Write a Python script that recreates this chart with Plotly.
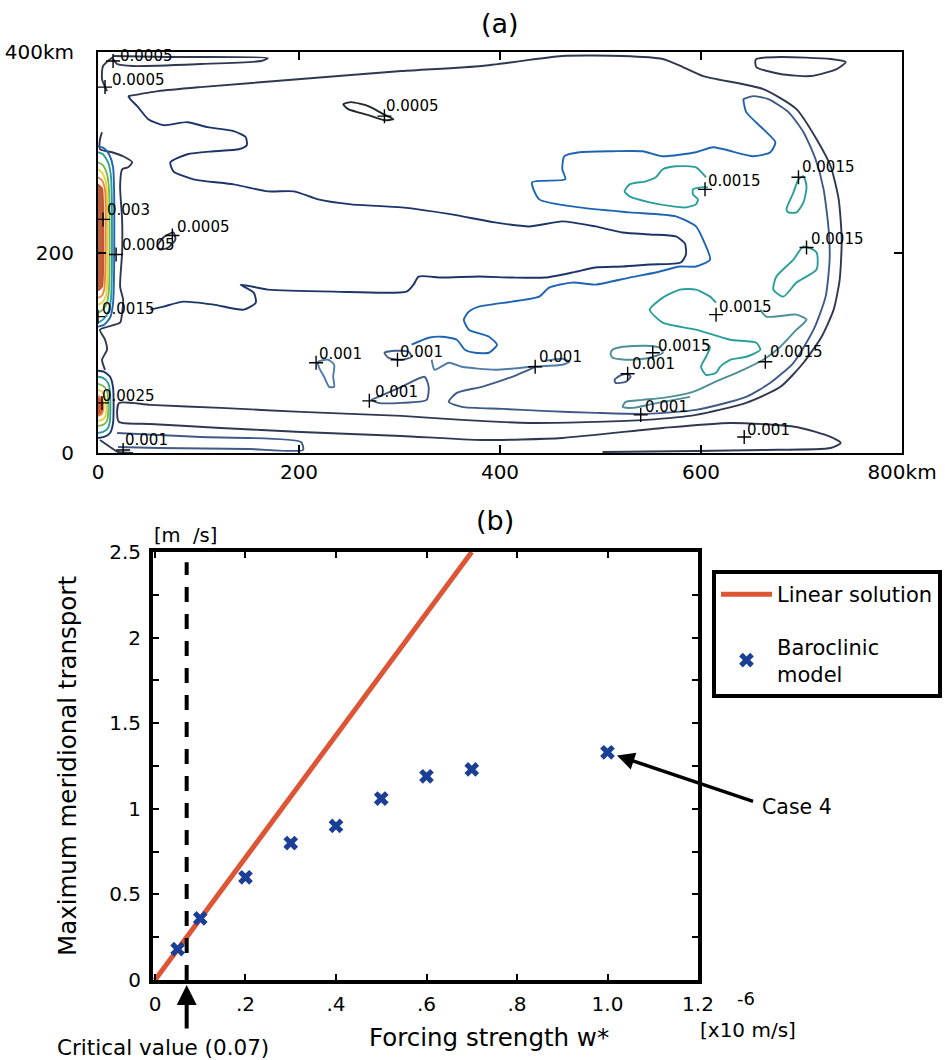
import plotly.graph_objects as go

# ------------------------------------------------------------------
# (a) contour lines of the meridional transport field (x, y in km)
# ------------------------------------------------------------------
line_outer = [(30, 356), (60, 361), (102, 365), (202, 373), (302, 381), (382, 386), (462, 396),
              (522, 396), (562, 393), (582, 385), (602, 376), (662, 363), (695, 343), (715, 313),
              (729, 286), (737, 253), (740, 213), (738, 173), (732, 143), (720, 116), (702, 90),
              (679, 66), (645, 50), (595, 38), (545, 33), (495, 31), (429, 30), (362, 33),
              (302, 37), (202, 41), (122, 45), (52, 48), (21, 50), (19, 40), (21, 31), (52, 29),
              (122, 25), (202, 21), (302, 17), (382, 13), (462, 15), (562, 25), (629, 30),
              (695, 26), (729, 16), (739, 10), (729, 5), (662, 3), (595, 2), (502, 1)]
line_tongue = [(30, 356), (33, 352), (39, 346), (50, 333), (65, 327), (89, 330), (109, 325),
               (135, 321), (147, 315), (148, 307), (140, 303), (115, 301), (89, 298), (72, 290),
               (75, 281), (95, 273), (135, 268), (169, 261), (195, 261), (219, 253), (252, 248),
               (302, 245), (352, 238), (395, 230), (429, 226), (462, 231), (495, 226), (522, 220),
               (549, 218), (575, 216), (584, 209), (585, 198), (580, 190), (549, 188), (522, 186),
               (495, 185), (472, 180), (445, 175), (412, 175), (379, 176), (342, 175), (319, 176),
               (314, 168), (307, 161), (235, 161), (169, 163), (142, 168), (155, 160), (157, 150),
               (145, 143), (115, 148), (85, 151), (65, 146), (52, 143)]
line_blue = [(642, 353), (645, 340), (662, 323), (674, 310), (669, 300), (652, 296), (612, 305),
             (595, 300), (562, 296), (542, 301), (512, 301), (479, 300), (464, 296), (462, 283),
             (465, 273), (432, 270), (439, 253), (479, 245), (529, 240), (575, 236), (595, 226),
             (602, 213), (609, 193), (595, 186), (579, 186), (555, 180), (529, 175), (495, 168),
             (472, 170), (449, 165), (439, 156), (412, 151), (379, 146), (369, 141), (364, 133),
             (369, 123), (389, 116), (397, 108), (389, 100), (375, 100), (365, 103), (357, 113),
             (342, 116), (329, 115), (312, 108)]
line_rim = [(642, 353), (652, 356), (667, 353), (687, 340), (702, 320), (714, 293), (722, 263),
            (727, 223), (728, 193), (724, 156), (712, 123), (692, 90), (669, 70), (645, 56),
            (595, 43), (545, 39), (495, 40), (442, 42), (402, 44), (362, 46), (349, 51), (357, 60),
            (382, 66), (412, 76), (435, 86)]
line_mid = [(332, 93), (335, 83), (349, 90), (362, 86), (395, 83), (432, 86), (462, 88), (469, 91),
            (462, 94), (445, 92)]
line_left = [(4, 320), (2, 313), (2, 303), (14, 300), (25, 296), (34, 290), (30, 285), (24, 283),
             (22, 266), (24, 233), (24, 200), (22, 166), (25, 153), (24, 140), (22, 130), (2, 123),
             (7, 113), (9, 103), (4, 93), (7, 83)]
line_bottom_left = [(19, 20), (60, 18), (102, 16), (202, 11), (204, 3), (150, 4), (60, 5), (20, 6)]
line_corner = [(2, 13), (12, 6), (20, 1), (35, 0)]

teal_upper = [(605, 275), (595, 285), (575, 286), (562, 283), (555, 275), (545, 271), (529, 268),
              (524, 261), (529, 256), (549, 250), (572, 246), (585, 245), (595, 248), (597, 253),
              (592, 258), (592, 263), (600, 265), (607, 265)]
teal_east_a = [(702, 276), (697, 273), (692, 260), (685, 243), (687, 240), (695, 240), (702, 250),
               (705, 266), (702, 276)]
teal_east_b = [(702, 206), (715, 200), (715, 183), (695, 170), (682, 156), (672, 163), (675, 176),
               (692, 193), (702, 206)]
teal_lower_a = [(615, 150), (609, 156), (595, 163), (579, 163), (562, 155), (549, 143), (562, 130),
                (595, 123), (629, 113), (655, 110), (659, 103), (645, 96), (629, 93), (619, 86),
                (615, 80), (605, 78), (600, 86), (605, 96), (609, 106), (602, 110)]
teal_lower_b = [(659, 143), (665, 136), (695, 138), (705, 133), (695, 123), (679, 106), (662, 93),
                (642, 83), (612, 70), (592, 61), (562, 55), (542, 53), (525, 51), (522, 46),
                (532, 45), (552, 49), (589, 56)]

loop_top_left = [(15, 395), (5, 386), (4, 373), (9, 361)]
loop_top_strip = [(15, 396), (69, 395), (169, 394), (162, 391), (102, 388), (35, 386), (19, 388),
                  (15, 393)]
loop_top_right = [(655, 393), (679, 395), (729, 393), (744, 390), (735, 383), (709, 376), (679, 378),
                  (655, 385), (654, 391), (655, 393)]
loop_north = [(244, 348), (252, 350), (269, 346), (284, 338), (294, 333), (285, 332), (269, 337),
              (249, 343), (244, 348)]
loop_west = [(59, 206), (65, 215), (75, 220), (77, 213), (70, 205), (62, 203), (59, 206)]
loop_s1 = [(219, 91), (229, 93), (235, 88), (234, 76), (235, 66), (230, 66), (225, 76), (220, 85),
           (219, 91)]
loop_s2 = [(285, 100), (295, 102), (309, 101), (312, 96), (302, 93), (289, 95), (285, 100)]
loop_s3 = [(279, 56), (302, 66), (325, 76), (329, 66), (327, 53), (302, 50), (279, 50), (272, 53),
           (279, 56)]
loop_s4 = [(512, 103), (522, 106), (545, 107), (559, 105), (562, 100), (549, 95), (529, 93),
           (512, 95), (510, 99), (512, 103)]
loop_s5 = [(514, 73), (519, 77), (527, 79), (530, 76), (525, 71), (515, 70), (514, 73)]

# western boundary jet: nested contours against the wall
jet_n1 = [(0, 306), (6, 304), (11, 298), (15, 285), (15, 150), (12, 135), (6, 128), (0, 126)]
jet_n2 = [(0, 300), (5, 298), (10, 290), (13, 275), (13, 155), (10, 140), (5, 133), (0, 130)]
jet_n3 = [(0, 290), (5, 287), (9, 278), (11, 262), (11, 165), (9, 150), (5, 143), (0, 140)]
jet_n4 = [(0, 283), (4, 280), (8, 270), (9, 255), (9, 170), (8, 157), (4, 150), (0, 148)]
jet_n5 = [(0, 275), (4, 272), (7, 262), (7, 175), (6, 162), (3, 156), (0, 155)]
jet_n6 = [(0, 268), (4, 264), (5, 250), (5, 178), (4, 166), (0, 162)]
jet_s1 = [(0, 82), (6, 81), (12, 76), (15, 65), (15, 30), (12, 20), (6, 16), (0, 15)]
jet_s2 = [(0, 76), (5, 75), (10, 70), (12, 60), (12, 33), (10, 25), (5, 21), (0, 20)]
jet_s3 = [(0, 69), (5, 67), (9, 62), (10, 55), (10, 38), (9, 32), (5, 28), (0, 27)]
jet_s4 = [(0, 63), (4, 61), (7, 56), (8, 50), (8, 40), (7, 36), (4, 33), (0, 32)]
jet_s5 = [(0, 57), (3, 55), (5, 50), (5, 42), (3, 38), (0, 37)]

# contour labels (text start) and the "+" marks placed on their lines
label_text = ["0.0005", "0.0005", "0.0005", "0.003", "0.0005", "0.0005", "0.0015", "0.0025",
              "0.001", "0.001", "0.001", "0.001", "0.001", "0.0015", "0.001", "0.0015",
              "0.0015", "0.0015", "0.0015", "0.0015", "0.001", "0.001"]
label_x = [20, 12, 285, 7, 77, 22, 2, 2, 25, 218, 299, 274, 437, 555, 529, 605, 699, 707, 616,
           667, 542, 644]
label_y = [396, 372, 346, 242, 225, 207, 144, 57, 13, 99, 101, 61, 96, 107, 89, 271, 285, 213,
           146, 101, 46, 23]
mark_x = [15, 7, 285, 5, 74, 18, 0, 4, 25, 217, 298, 270, 435, 552, 527, 604, 697, 705, 615, 664,
          540, 643]
mark_y = [391, 365, 336, 233, 217, 198, 136, 50, 3, 90, 93, 52, 86, 100, 79, 263, 275, 205, 138,
          91, 38, 16]

# ------------------------------------------------------------------
# (b) maximum meridional transport against forcing strength
# ------------------------------------------------------------------
linear_forcing = [0.0, 0.70]
linear_transport = [0.0, 2.5]
model_forcing = [0.05, 0.1, 0.2, 0.3, 0.4, 0.5, 0.6, 0.7, 1.0]
model_transport = [0.18, 0.36, 0.60, 0.80, 0.90, 1.06, 1.19, 1.23, 1.33]
critical_value = 0.07
case4_index = 8

x2_ticks = [0, 0.2, 0.4, 0.6, 0.8, 1.0, 1.2]
x2_labels = ["0", ".2", ".4", ".6", ".8", "1.0", "1.2"]
y2_ticks = [0, 0.25, 0.5, 0.75, 1.0, 1.25, 1.5, 1.75, 2.0, 2.25, 2.5]
y2_labels = ["0", "", "0.5", "", "1", "", "1.5", "", "2", "", "2.5"]

FONT = "DejaVu Sans"

DARK = "#2f3850"
NAVY = "#1d3468"
BLUE = "#1f64b3"
RIM = "#3f5a86"
MID = "#4f7aa6"
TEAL = "#2a9e9c"
TEAL_GREY = "#4d8f99"
GREEN = "#79b94a"
YELLOW = "#e6d446"
ORANGE = "#eb8a3a"
RED = "#c8532f"

styled_lines = [
    (line_outer, DARK), (line_tongue, NAVY), (line_blue, BLUE), (line_rim, RIM),
    (line_mid, MID), (line_left, DARK), (line_bottom_left, RIM), (line_corner, DARK),
    (teal_upper, TEAL), (teal_east_a, TEAL), (teal_east_b, TEAL), (teal_lower_a, TEAL),
    (teal_lower_b, TEAL_GREY), (loop_top_left, DARK), (loop_top_strip, DARK),
    (loop_top_right, DARK), (loop_north, "#23262e"), (loop_west, DARK), (loop_s1, MID),
    (loop_s2, RIM), (loop_s3, RIM), (loop_s4, TEAL_GREY), (loop_s5, RIM),
    (jet_n1, BLUE), (jet_n2, TEAL), (jet_n3, GREEN), (jet_n4, YELLOW), (jet_n5, ORANGE),
    (jet_s1, NAVY), (jet_s2, TEAL), (jet_s3, GREEN), (jet_s4, YELLOW),
]

fig = go.Figure()

for pts, color in styled_lines:
    fig.add_trace(go.Scatter(
        x=[p[0] for p in pts], y=[p[1] for p in pts], mode="lines",
        line=dict(color=color, width=1.9, shape="spline", smoothing=0.6),
        showlegend=False, hoverinfo="skip", xaxis="x", yaxis="y"))

# filled cores of the jet
for pts, line_c, fill_c in [(jet_n6, RED, "#b9623f"), (jet_s5, ORANGE, "#dd5a35")]:
    fig.add_trace(go.Scatter(
        x=[p[0] for p in pts], y=[p[1] for p in pts], mode="lines", fill="toself",
        fillcolor=fill_c, line=dict(color=line_c, width=1.8, shape="spline", smoothing=0.6),
        showlegend=False, hoverinfo="skip", xaxis="x", yaxis="y"))

fig.add_trace(go.Scatter(
    x=mark_x, y=mark_y, mode="markers",
    marker=dict(symbol="cross-thin", size=10, line=dict(color="black", width=1.4)),
    showlegend=False, hoverinfo="skip", xaxis="x", yaxis="y"))

annotations = []
for t, lx, ly in zip(label_text, label_x, label_y):
    annotations.append(dict(text=t, x=lx, y=ly, xref="x", yref="y", xanchor="left",
                            yanchor="middle", showarrow=False,
                            font=dict(family=FONT, size=15, color="black")))

# panel (b)
fig.add_trace(go.Scatter(
    x=linear_forcing, y=linear_transport, mode="lines", name="Linear solution",
    line=dict(color="#dd5535", width=5), xaxis="x2", yaxis="y2", legendgroup="lin"))
fig.add_trace(go.Scatter(
    x=model_forcing, y=model_transport, mode="markers", name="Baroclinic<br>model",
    marker=dict(symbol="x", size=13, color="#1b3f94", line=dict(width=0)),
    xaxis="x2", yaxis="y2", legendgroup="model"))

shapes = [dict(type="line", xref="x2", yref="y2", x0=critical_value, x1=critical_value,
               y0=0, y1=2.44, line=dict(color="black", width=4, dash="15px,12px"))]


def paper_text(text, px, py, size, **kw):
    """Text placed at a pixel position of the 945x1060 page."""
    d = dict(text=text, x=px / 945, y=1 - py / 1060, xref="paper", yref="paper",
             xanchor="center", yanchor="middle", showarrow=False,
             font=dict(family=FONT, size=size, color="black"))
    d.update(kw)
    return d


annotations += [
    paper_text("(a)", 500, 23, 27),
    paper_text("(b)", 495, 520, 27),
    paper_text("[m  /s]", 185, 535, 19.5),
    paper_text("Maximum meridional transport", 67, 766, 24.5, textangle=-90),
    paper_text("Forcing strength w*", 489, 1037, 24.5),
    paper_text("-6", 746, 998, 18),
    paper_text("[x10 m/s]", 748, 1030, 20),
    paper_text(f"Critical value ({critical_value:.2f})", 163, 1047, 21.5),
    paper_text("Case 4", 760, 807, 20.5, xanchor="left"),
    dict(text="", x=critical_value, y=1 - 985 / 1060, xref="x2", yref="paper",
         ax=0, ay=45, axref="pixel", ayref="pixel", showarrow=True, arrowhead=2,
         arrowsize=1, arrowwidth=4, arrowcolor="black"),
    dict(text="", x=model_forcing[case4_index], y=model_transport[case4_index], xref="x2",
         yref="y2", ax=1.325, ay=1.04, axref="x2", ayref="y2", showarrow=True, arrowhead=2,
         arrowsize=1, arrowwidth=3.5, arrowcolor="black", standoff=10),
]

tick_font = dict(family=FONT, size=20, color="black")
tick_font_b = dict(family=FONT, size=20, color="black")

fig.update_layout(
    width=945, height=1060, margin=dict(l=0, r=0, t=0, b=0, autoexpand=False),
    paper_bgcolor="white", plot_bgcolor="white",
    xaxis=dict(domain=[98 / 945, 902 / 945], range=[0, 800], anchor="y", automargin=False,
               tickvals=[0, 200, 400, 600, 800], ticktext=["0", "200", "400", "600", "800km"],
               ticks="inside", ticklen=8, tickwidth=1.5, tickcolor="black", showline=True,
               linewidth=2, linecolor="black", mirror="ticks", showgrid=False, zeroline=False,
               tickfont=tick_font, ticklabelstandoff=0),
    yaxis=dict(domain=[1 - 453 / 1060, 1 - 52 / 1060], range=[0, 400], anchor="x",
               automargin=False,
               tickvals=[0, 200, 400], ticktext=["0", "200", "400km"],
               ticks="inside", ticklen=8, tickwidth=1.5, tickcolor="black", showline=True,
               linewidth=2, linecolor="black", mirror="ticks", showgrid=False, zeroline=False,
               tickfont=tick_font, ticklabelstandoff=18),
    xaxis2=dict(domain=[153 / 945, 698 / 945], range=[-0.0044, 1.2], anchor="y2",
                automargin=False, tickvals=x2_ticks, ticktext=x2_labels,
                ticks="inside", ticklen=6, tickwidth=2, tickcolor="black", showline=True,
                linewidth=4, linecolor="black", mirror="ticks", showgrid=False, zeroline=False,
                tickfont=tick_font_b, ticklabelstandoff=3),
    yaxis2=dict(domain=[1 - 980 / 1060, 1 - 552 / 1060], range=[0, 2.5], anchor="x2",
                automargin=False, tickvals=y2_ticks, ticktext=y2_labels,
                ticks="inside", ticklen=6, tickwidth=2, tickcolor="black", showline=True,
                linewidth=4, linecolor="black", mirror="ticks", showgrid=False, zeroline=False,
                tickfont=tick_font_b, ticklabelstandoff=4),
    legend=dict(x=942 / 945, y=1 - 570 / 1060, xanchor="right", yanchor="top",
                bordercolor="black", borderwidth=4, bgcolor="white",
                font=dict(family=FONT, size=21, color="black"), itemwidth=51,
                traceorder="grouped", tracegroupgap=22),
    shapes=shapes, annotations=annotations,
)

fig.write_html("out.html")
